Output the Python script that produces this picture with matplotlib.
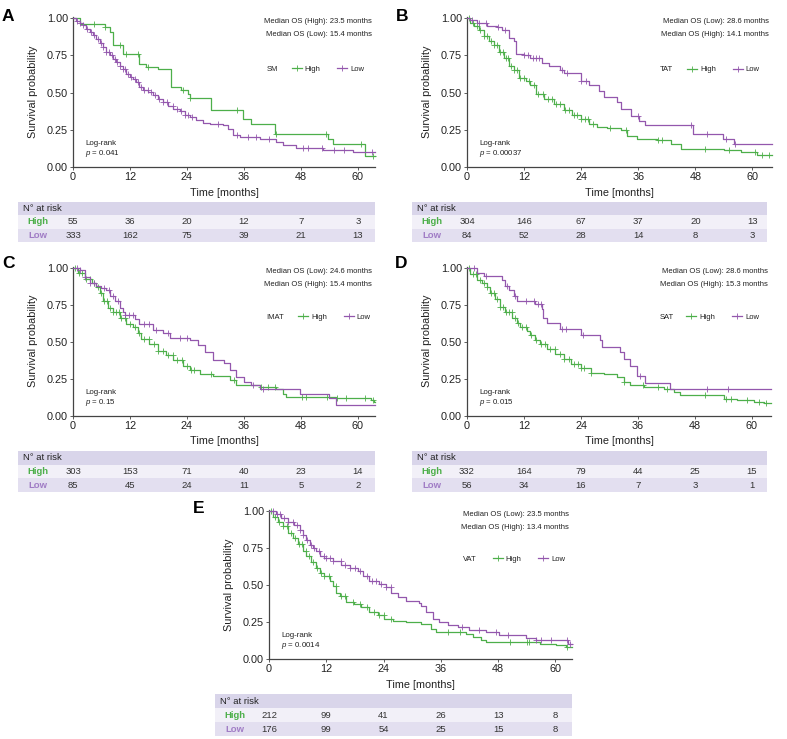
import numpy as np
import matplotlib
matplotlib.use('Agg')
import matplotlib.pyplot as plt
from matplotlib.lines import Line2D
from matplotlib.patches import Rectangle
from matplotlib.transforms import blended_transform_factory

plt.rcParams['font.family'] = ['Liberation Sans', 'DejaVu Sans']
plt.rcParams['mathtext.fontset'] = 'custom'
plt.rcParams['mathtext.rm'] = 'Liberation Sans'
plt.rcParams['mathtext.it'] = 'Liberation Sans:italic'

GREEN = '#4daf4a'
PURPLE = '#9357ad'
PURPLE_LABEL = '#a07cc5'
HEADER = '#d9d5ea'
ROW_HIGH = '#f2f0f8'
ROW_LOW = '#e3dff0'
TEXT = '#222222'

TIME_TICKS = [0, 12, 24, 36, 48, 60]

# ---- A: SM ----
a_high_t = [0, 1.4, 6.7, 7.7, 8.4, 10.5, 14.0, 15.4, 17.9, 20.7, 22.8, 24.2, 24.6, 29.1, 35.8, 37.5,
            42.5, 53.7, 54.7, 61.4, 63.6]
a_high_s = [1.0, 0.962, 0.94, 0.906, 0.817, 0.761, 0.694, 0.675, 0.66, 0.537, 0.515, 0.49, 0.463, 0.38,
            0.324, 0.29, 0.224, 0.19, 0.157, 0.074, 0.074]
a_high_cens = [4.5, 6.7, 9.8, 11.2, 13.7, 15.8, 23.2, 24.6, 34.5, 42.8, 53.3, 60.7, 63.2]
a_low_t = [0, 0.7, 1.4, 2.1, 2.8, 3.5, 4.2, 4.9, 5.6, 6.3, 7.0, 7.7, 8.4, 9.1, 9.8, 10.5, 11.2, 11.9,
           12.6, 13.3, 14.0, 14.7, 15.8, 16.8, 17.9, 18.9, 20.0, 21.1, 22.5, 23.5, 24.6, 26.0, 27.4,
           28.8, 31.6, 32.6, 33.7, 35.1, 39.3, 42.8, 44.2, 47.0, 52.6, 58.9, 63.6]
a_low_s = [1.0, 0.984, 0.969, 0.951, 0.928, 0.91, 0.888, 0.861, 0.834, 0.805, 0.776, 0.754, 0.727,
           0.705, 0.682, 0.66, 0.626, 0.604, 0.593, 0.57, 0.537, 0.515, 0.503, 0.481, 0.46, 0.436,
           0.41, 0.392, 0.375, 0.352, 0.336, 0.313, 0.296, 0.29, 0.28, 0.255, 0.213, 0.2, 0.19,
           0.168, 0.145, 0.128, 0.112, 0.1, 0.1]
a_low_cens = [0.8, 1.5, 2.2, 3.0, 3.8, 4.5, 5.2, 5.8, 6.4, 7.0, 7.6, 8.2, 8.8, 9.3, 9.9, 10.5, 11.0,
              11.6, 12.2, 13.0, 13.6, 14.3, 15.0, 15.7, 16.5, 17.3, 18.1, 19.0, 19.8, 21.0, 22.0,
              22.8, 23.5, 24.3, 25.0, 30.5, 34.6, 36.8, 38.6, 41.3, 48.5, 49.5, 52.5, 55.0, 57.0, 63.0]

# ---- B: TAT ----
b_high_t = [0, 0.7, 1.4, 2.5, 3.5, 4.6, 5.6, 6.7, 7.7, 8.8, 9.8, 10.9, 12.3, 13.3, 14.4, 16.1, 18.2,
            20.4, 22.1, 23.9, 25.6, 27.4, 29.5, 32.3, 33.7, 35.8, 40.0, 42.8, 44.9, 54.0, 57.5, 61.0, 64.1]
b_high_s = [1.0, 0.97, 0.95, 0.92, 0.88, 0.85, 0.82, 0.77, 0.73, 0.68, 0.65, 0.60, 0.58, 0.55, 0.49,
            0.46, 0.425, 0.38, 0.35, 0.32, 0.29, 0.27, 0.26, 0.246, 0.21, 0.19, 0.18, 0.157, 0.123,
            0.112, 0.1, 0.083, 0.083]
b_high_cens = [0.5, 1.2, 2.0, 2.8, 3.5, 4.3, 5.0, 5.7, 6.3, 6.9, 7.5, 8.1, 8.7, 9.3, 9.9, 10.5, 11.2,
               12.0, 13.0, 14.0, 15.0, 16.0, 17.0, 17.8, 18.6, 19.5, 20.5, 21.5, 22.5, 23.2, 24.0,
               24.8, 25.5, 26.5, 30.0, 33.5, 40.2, 41.0, 50.0, 55.0, 60.5, 62.0, 63.5]
b_low_t = [0, 0.7, 2.1, 4.2, 6.3, 7.4, 8.8, 9.8, 10.2, 11.9, 13.3, 15.8, 17.2, 19.6, 20.4, 23.9, 25.6,
           27.7, 28.8, 31.6, 32.3, 34.4, 36.1, 37.5, 47.4, 53.7, 56.1, 64.1]
b_low_s = [1.0, 0.99, 0.97, 0.95, 0.94, 0.92, 0.87, 0.85, 0.76, 0.75, 0.73, 0.70, 0.68, 0.65, 0.63,
           0.58, 0.55, 0.51, 0.47, 0.44, 0.39, 0.34, 0.31, 0.28, 0.22, 0.19, 0.157, 0.157]
b_low_cens = [1.0, 2.5, 4.0, 6.5, 8.0, 12.0, 12.8, 13.8, 14.5, 15.2, 20.0, 21.0, 24.0, 25.0, 36.0,
              47.0, 50.5, 54.5, 56.3]

# ---- C: IMAT ----
c_high_t = [0, 1.05, 2.5, 3.9, 4.9, 5.6, 6.3, 7.4, 8.4, 9.8, 11.2, 12.6, 13.7, 14.4, 16.1, 17.9, 19.6,
            21.1, 23.2, 24.6, 26.7, 29.5, 33.0, 34.4, 39.3, 42.8, 44.2, 44.9, 55.4, 62.8, 63.3, 63.6]
c_high_s = [1.0, 0.97, 0.93, 0.90, 0.87, 0.83, 0.78, 0.73, 0.70, 0.66, 0.62, 0.60, 0.56, 0.52, 0.485,
            0.44, 0.41, 0.375, 0.34, 0.31, 0.285, 0.27, 0.24, 0.206, 0.195, 0.183, 0.15, 0.128, 0.12,
            0.105, 0.094, 0.094]
c_high_cens = [0.5, 1.2, 2.0, 2.8, 3.6, 4.4, 5.2, 6.0, 6.6, 7.2, 7.8, 8.4, 9.0, 9.6, 10.2, 11.0, 12.0,
               13.0, 14.0, 15.0, 16.0, 17.0, 18.0, 19.0, 20.0, 21.0, 22.0, 23.0, 24.0, 24.8, 25.5,
               29.0, 34.0, 39.5, 41.0, 42.5, 48.3, 49.0, 53.5, 55.5, 57.5, 61.5, 63.2]
c_low_t = [0, 1.4, 2.5, 3.5, 4.9, 6.0, 7.0, 7.7, 8.8, 9.8, 10.5, 10.9, 13.0, 14.0, 16.8, 18.9, 20.4,
           24.6, 26.3, 27.7, 29.5, 31.9, 33.0, 34.4, 36.1, 37.5, 39.3, 47.7, 54.0, 55.4, 63.6]
c_low_s = [1.0, 0.99, 0.94, 0.90, 0.876, 0.865, 0.85, 0.81, 0.776, 0.73, 0.70, 0.68, 0.655, 0.62,
           0.58, 0.56, 0.53, 0.51, 0.48, 0.43, 0.38, 0.36, 0.31, 0.26, 0.23, 0.205, 0.18, 0.15, 0.12,
           0.075, 0.075]
c_low_cens = [0.8, 1.5, 2.5, 3.5, 4.5, 6.5, 7.5, 8.5, 9.5, 11.0, 11.7, 12.7, 15.0, 16.0, 17.5, 20.0,
              22.5, 24.0, 38.0, 40.0]

# ---- D: SAT ----
d_high_t = [0, 0.7, 2.1, 3.2, 4.2, 4.9, 6.0, 7.0, 8.1, 9.5, 10.5, 11.2, 12.6, 13.3, 14.4, 15.4, 16.8,
            18.6, 20.4, 21.8, 23.9, 26.0, 28.8, 31.6, 33.0, 34.4, 37.2, 41.4, 43.5, 44.9, 54.0, 56.8,
            60.4, 62.5, 64.0]
d_high_s = [1.0, 0.96, 0.92, 0.90, 0.87, 0.83, 0.79, 0.74, 0.70, 0.665, 0.63, 0.60, 0.575, 0.55,
            0.51, 0.485, 0.45, 0.42, 0.385, 0.35, 0.32, 0.29, 0.28, 0.26, 0.23, 0.206, 0.195, 0.183,
            0.16, 0.14, 0.116, 0.105, 0.094, 0.083, 0.083]
d_high_cens = [0.5, 1.3, 2.0, 2.8, 3.5, 4.3, 5.0, 5.7, 6.4, 7.0, 7.6, 8.2, 8.8, 9.4, 10.0, 10.7, 11.5,
               12.5, 13.5, 14.5, 15.5, 16.5, 17.5, 18.5, 19.5, 20.5, 21.5, 22.5, 23.3, 24.0, 24.7,
               26.0, 33.0, 37.0, 40.2, 42.0, 50.0, 54.5, 55.5, 59.0, 61.5, 63.0]
d_low_t = [0, 2.1, 3.5, 7.4, 8.1, 8.8, 9.8, 10.5, 14.4, 15.8, 16.1, 16.8, 19.6, 23.9, 28.1, 28.4,
           32.3, 33.0, 34.4, 35.8, 37.5, 42.8, 64.0]
d_low_s = [1.0, 0.965, 0.95, 0.92, 0.877, 0.85, 0.81, 0.78, 0.754, 0.72, 0.66, 0.63, 0.586, 0.55,
           0.51, 0.465, 0.43, 0.385, 0.34, 0.27, 0.22, 0.183, 0.183]
d_low_cens = [1.5, 4.0, 8.5, 10.0, 12.5, 14.0, 15.0, 15.6, 20.0, 20.8, 24.5, 36.5, 50.5, 55.0]

# ---- E: VAT ----
e_high_t = [0, 0.8, 1.8, 2.9, 3.9, 5.0, 6.0, 7.1, 7.8, 8.8, 9.9, 10.6, 11.6, 12.7, 13.4, 14.1, 14.8,
            16.2, 17.9, 19.3, 21.0, 22.8, 24.2, 25.9, 28.7, 31.9, 34.0, 35.0, 41.3, 42.7, 44.5, 45.5,
            56.7, 60.2, 62.3, 63.5]
e_high_s = [1.0, 0.96, 0.93, 0.90, 0.855, 0.82, 0.78, 0.73, 0.70, 0.655, 0.62, 0.586, 0.564, 0.53,
            0.497, 0.45, 0.43, 0.385, 0.374, 0.35, 0.32, 0.295, 0.27, 0.26, 0.25, 0.24, 0.206, 0.183,
            0.17, 0.15, 0.128, 0.116, 0.105, 0.094, 0.083, 0.083]
e_high_cens = [0.5, 1.3, 2.1, 3.0, 3.8, 4.6, 5.4, 6.2, 7.0, 7.7, 8.4, 9.2, 10.0, 10.8, 11.6, 12.5,
               14.0, 15.0, 16.0, 17.5, 19.0, 20.5, 22.0, 23.0, 24.0, 25.5, 37.5, 40.0, 50.5, 54.0,
               54.5, 62.5]
e_low_t = [0, 1.5, 2.5, 3.9, 5.3, 6.4, 7.1, 7.8, 8.5, 9.2, 9.9, 10.6, 11.6, 13.4, 15.1, 16.9, 18.6,
           19.7, 21.0, 23.1, 24.5, 25.6, 27.0, 28.7, 31.5, 31.9, 32.9, 34.3, 35.7, 37.5, 39.6, 42.0,
           45.5, 48.3, 53.9, 56.0, 62.7, 63.5]
e_low_s = [1.0, 0.98, 0.955, 0.93, 0.91, 0.877, 0.843, 0.81, 0.776, 0.754, 0.73, 0.70, 0.687, 0.664,
           0.64, 0.62, 0.597, 0.564, 0.53, 0.51, 0.485, 0.45, 0.42, 0.396, 0.38, 0.362, 0.318, 0.273,
           0.25, 0.228, 0.217, 0.195, 0.183, 0.16, 0.14, 0.128, 0.105, 0.105]
e_low_cens = [0.8, 1.6, 2.4, 3.2, 4.0, 5.0, 5.8, 6.5, 7.2, 8.0, 8.8, 9.5, 10.5, 11.5, 12.0, 12.8,
              13.5, 15.0, 16.0, 17.0, 18.0, 19.0, 20.5, 21.5, 22.5, 23.5, 24.5, 25.5, 40.5, 44.0,
              47.5, 50.0, 56.0, 57.0, 59.0, 62.5, 63.0]

# panel texts and numbers at risk
names = ['SM', 'TAT', 'IMAT', 'SAT', 'VAT']
p_values = ['0.041', '0.00037', '0.15', '0.015', '0.0014']
median_lines = [
    ['Median OS (High): 23.5 months', 'Median OS (Low): 15.4 months'],
    ['Median OS (Low): 28.6 months', 'Median OS (High): 14.1 months'],
    ['Median OS (Low): 24.6 months', 'Median OS (High): 15.4 months'],
    ['Median OS (Low): 28.6 months', 'Median OS (High): 15.3 months'],
    ['Median OS (Low): 23.5 months', 'Median OS (High): 13.4 months'],
]
risk_high = [
    [55, 36, 20, 12, 7, 3],
    [304, 146, 67, 37, 20, 13],
    [303, 153, 71, 40, 23, 14],
    [332, 164, 79, 44, 25, 15],
    [212, 99, 41, 26, 13, 8],
]
risk_low = [
    [333, 162, 75, 39, 21, 13],
    [84, 52, 28, 14, 8, 3],
    [85, 45, 24, 11, 5, 2],
    [56, 34, 16, 7, 3, 1],
    [176, 99, 54, 25, 15, 8],
]
curves = [
    (a_high_t, a_high_s, a_high_cens, a_low_t, a_low_s, a_low_cens),
    (b_high_t, b_high_s, b_high_cens, b_low_t, b_low_s, b_low_cens),
    (c_high_t, c_high_s, c_high_cens, c_low_t, c_low_s, c_low_cens),
    (d_high_t, d_high_s, d_high_cens, d_low_t, d_low_s, d_low_cens),
    (e_high_t, e_high_s, e_high_cens, e_low_t, e_low_s, e_low_cens),
]

# layout in pixels (left, top, right, bottom) of the 787x739 canvas
FIG_W, FIG_H = 787, 739
LAYOUT = [
    dict(letter='A', ax=(73, 16.7, 375, 167), table=(18, 202, 375, 242), let=(2, 20.7),
         xmax=63.6, gx=0.642, lx=0.724, ly=0.652),
    dict(letter='B', ax=(467, 16.7, 772, 167), table=(412, 202, 767, 242), let=(396, 20.7),
         xmax=64.1, gx=0.633, lx=0.722, ly=0.648),
    dict(letter='C', ax=(73, 266.7, 375, 415.7), table=(18, 451, 375, 492), let=(2, 268.3),
         xmax=63.6, gx=0.641, lx=0.745, ly=0.662),
    dict(letter='D', ax=(467, 266.7, 771, 415.7), table=(412, 451, 767, 492), let=(395, 268.3),
         xmax=64.0, gx=0.633, lx=0.722, ly=0.662),
    dict(letter='E', ax=(269, 510, 572, 659), table=(215, 694, 572, 736), let=(193, 513),
         xmax=63.5, gx=0.639, lx=0.738, ly=0.671),
]


def px_box(left, top, right, bottom):
    return [left / FIG_W, 1 - bottom / FIG_H, (right - left) / FIG_W, (bottom - top) / FIG_H]


def step_value(t, s, x):
    idx = np.searchsorted(t, x, side='right') - 1
    return np.asarray(s)[idx]


def km_panel(fig, i):
    lay = LAYOUT[i]
    ht, hs, hc, lt, ls, lc = curves[i]
    ax = fig.add_axes(px_box(*lay['ax']))

    for t, s, c, col in [(ht, hs, hc, GREEN), (lt, ls, lc, PURPLE)]:
        ax.step(t, s, where='post', color=col, lw=0.9, clip_on=False, zorder=3)
        ax.plot(c, step_value(t, s, c), ls='', marker='+', ms=4, mew=0.6, color=col,
                clip_on=False, zorder=3)

    ax.set_xlim(0, lay['xmax'])
    ax.set_ylim(0, 1.01)
    ax.set_xticks(TIME_TICKS)
    ax.set_yticks([0, 0.25, 0.5, 0.75, 1.0])
    ax.set_yticklabels([f'{v:.2f}' for v in [0, 0.25, 0.5, 0.75, 1.0]])
    for side in ['top', 'right']:
        ax.spines[side].set_visible(False)
    for side in ['left', 'bottom']:
        ax.spines[side].set_color('#444444')
        ax.spines[side].set_linewidth(0.9)
    ax.tick_params(direction='out', length=2.5, width=0.6, colors='#444444',
                   labelcolor=TEXT, labelsize=7.8, pad=1.2)
    ax.set_xlabel('Time [months]', fontsize=7.8, color=TEXT, labelpad=4)
    ax.set_ylabel('Survival probability', fontsize=7.8, color=TEXT, labelpad=6)

    ax.text(0.99, 0.967, median_lines[i][0], transform=ax.transAxes, ha='right', va='center',
            fontsize=5.5, color=TEXT)
    ax.text(0.99, 0.883, median_lines[i][1], transform=ax.transAxes, ha='right', va='center',
            fontsize=5.5, color=TEXT)
    ax.text(0.04, 0.155, 'Log-rank', transform=ax.transAxes, ha='left', va='center',
            fontsize=5.7, color=TEXT)
    ax.text(0.04, 0.088, '$p$ = ' + p_values[i], transform=ax.transAxes, ha='left',
            va='center', fontsize=5.7, color=TEXT)

    ax.text(lay['gx'], lay['ly'], names[i], transform=ax.transAxes, ha='left', va='center',
            fontsize=5.5, color=TEXT)
    handles = [Line2D([], [], color=GREEN, lw=0.9, marker='+', ms=4, mew=0.6),
               Line2D([], [], color=PURPLE, lw=0.9, marker='+', ms=4, mew=0.6)]
    ax.legend(handles, ['High', 'Low'], ncol=2, loc='center left',
              bbox_to_anchor=(lay['lx'], lay['ly']), frameon=False, fontsize=5.5,
              handlelength=1.3, handletextpad=0.4, columnspacing=2.2, borderpad=0,
              borderaxespad=0, labelcolor=TEXT)

    # number at risk table
    tl, tt, tr, tb = lay['table']
    tab = fig.add_axes(px_box(tl, tt, tr, tb))
    tab.set_xlim(0, 1)
    tab.set_ylim(0, 3)
    tab.axis('off')
    tab.add_patch(Rectangle((0, 2), 1, 1, color=HEADER, lw=0))
    tab.add_patch(Rectangle((0, 1), 1, 1, color=ROW_HIGH, lw=0))
    tab.add_patch(Rectangle((0, 0), 1, 1, color=ROW_LOW, lw=0))
    w = tr - tl
    tab.text(5 / w, 2.5, 'N° at risk', ha='left', va='center', fontsize=6.8, color=TEXT)
    tab.text(20 / w, 1.5, 'High', ha='center', va='center', fontsize=6.8,
             fontweight='bold', color=GREEN)
    tab.text(20 / w, 0.5, 'Low', ha='center', va='center', fontsize=6.8,
             fontweight='bold', color=PURPLE_LABEL)
    trans = blended_transform_factory(ax.transData, tab.transData)
    for x, nh, nl in zip(TIME_TICKS, risk_high[i], risk_low[i]):
        tab.text(x, 1.5, str(nh), transform=trans, ha='center', va='center',
                 fontsize=6.8, color='#333333')
        tab.text(x, 0.5, str(nl), transform=trans, ha='center', va='center',
                 fontsize=6.8, color='#333333')

    lx, ly = lay['let']
    fig.text(lx / FIG_W, 1 - ly / FIG_H, lay['letter'], ha='left', va='baseline',
             fontsize=12.5, fontweight='bold', color='black')


def main():
    fig = plt.figure(figsize=(FIG_W / 100, FIG_H / 100), dpi=100)
    for i in range(len(LAYOUT)):
        km_panel(fig, i)
    fig.savefig('out.png', dpi=100)


if __name__ == '__main__':
    main()
